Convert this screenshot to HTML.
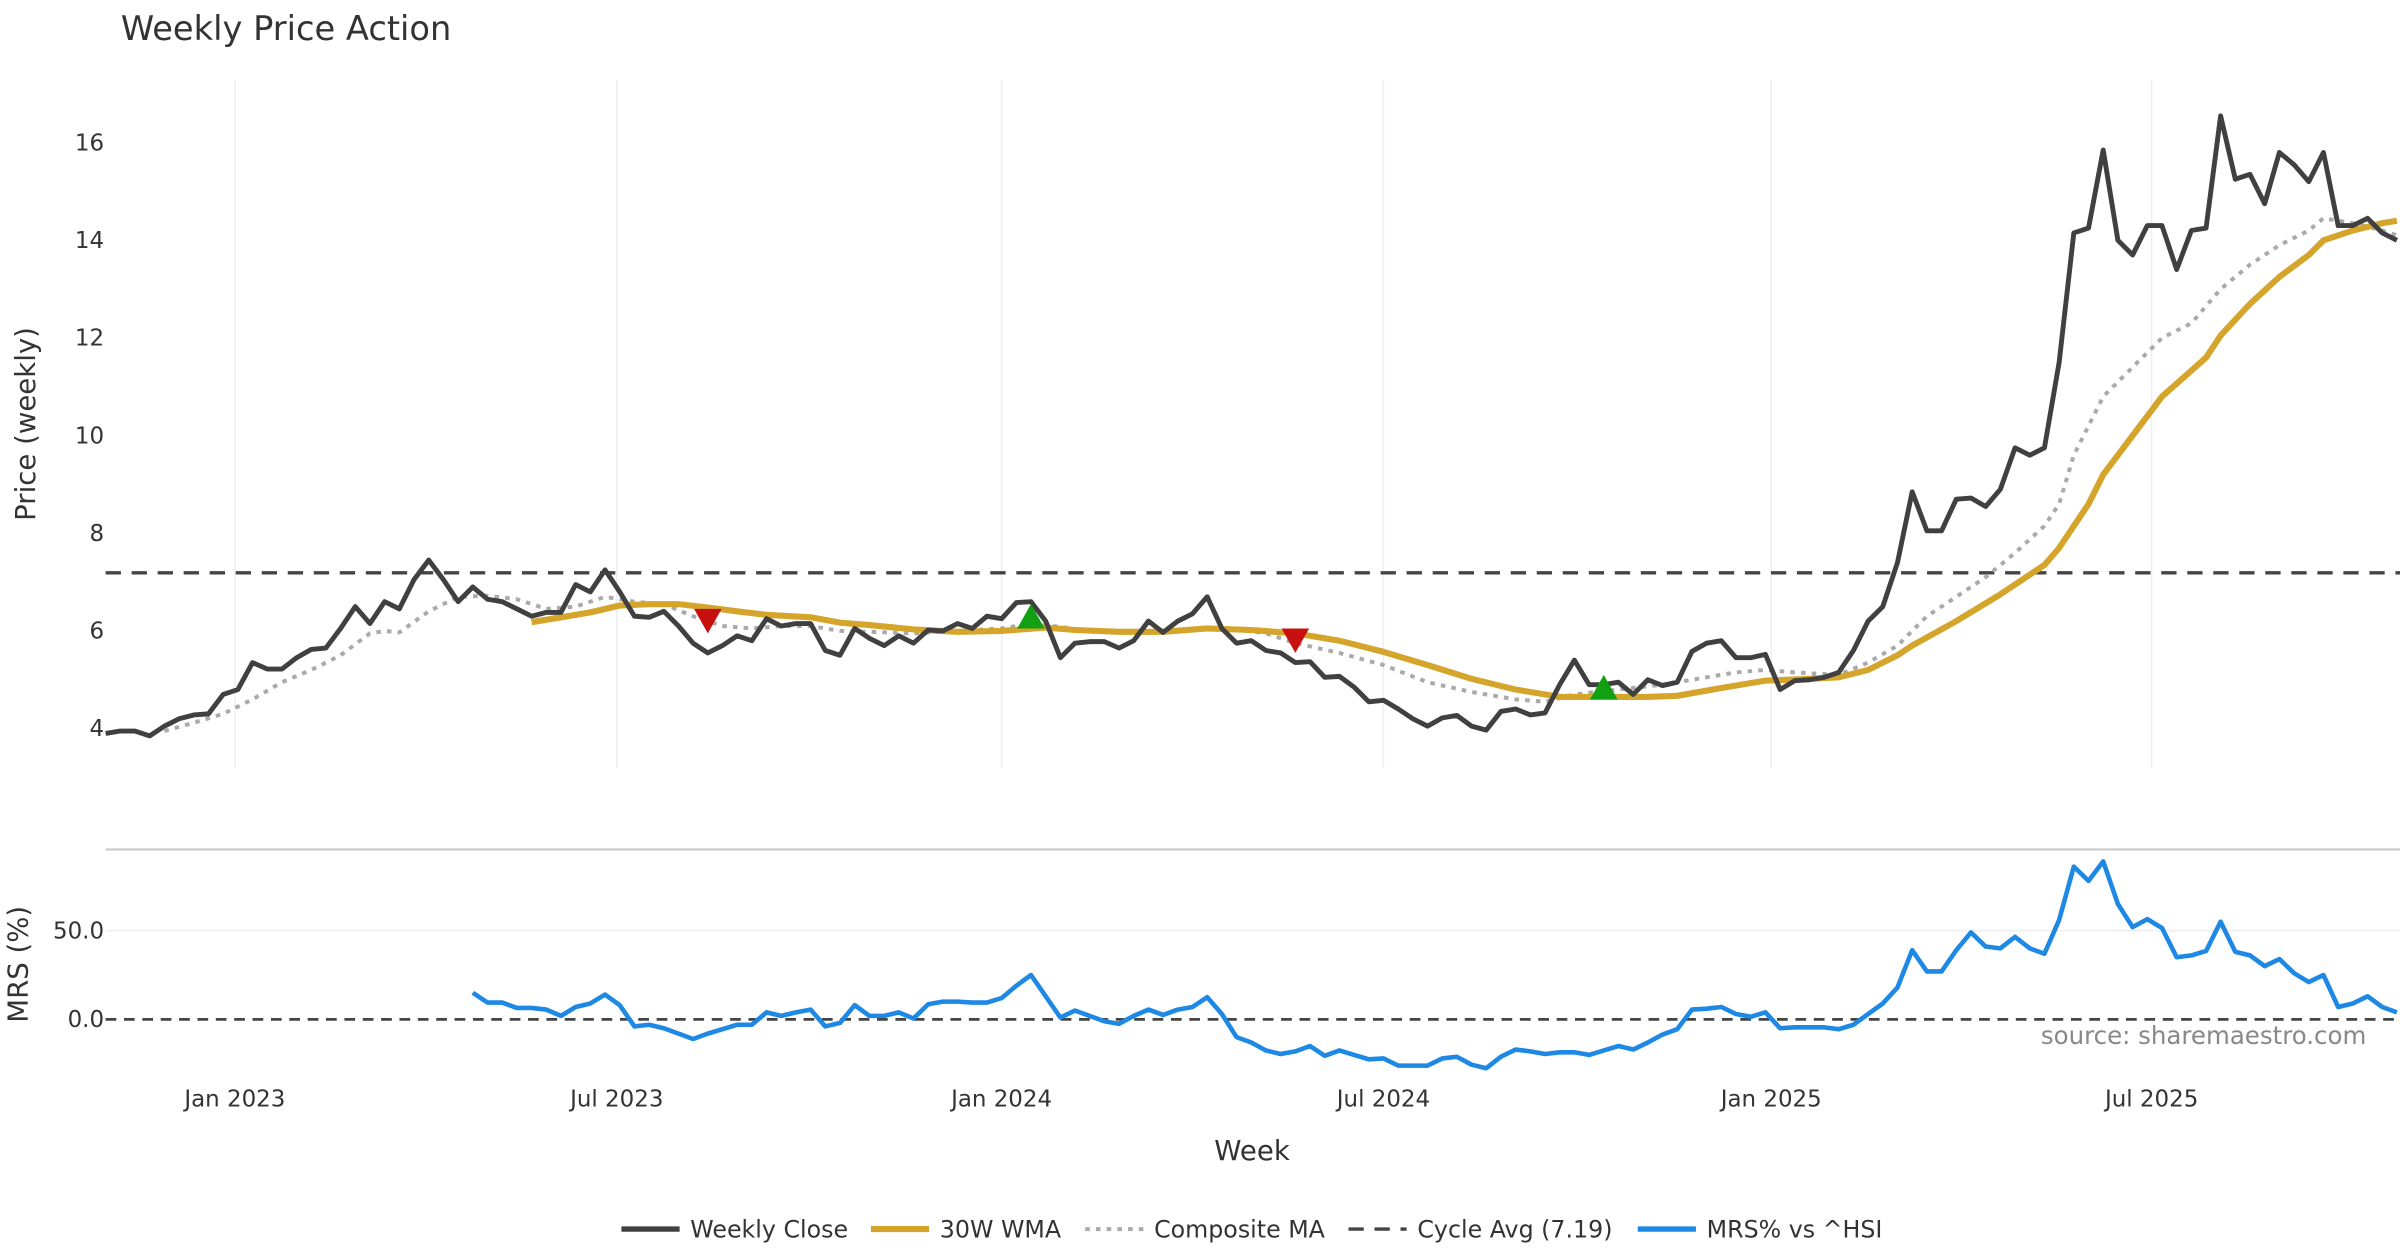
<!DOCTYPE html>
<html><head><meta charset="utf-8"><style>
html,body{margin:0;padding:0;background:#fff;}
svg{display:block;font-family:"DejaVu Sans","Liberation Sans",sans-serif;}
</style></head><body>
<svg id="chart" width="2400" height="1260" viewBox="0 0 1568 823.2" preserveAspectRatio="none" xmlns="http://www.w3.org/2000/svg">
<rect width="1568" height="823.2" fill="#fff"/>
<text x="79" y="26" font-size="22" fill="#333">Weekly Price Action</text>
<g id="grid"></g>
<g id="axes"></g>
<g id="series"></g>
<text transform="translate(23,277) rotate(-90)" text-anchor="middle" font-size="18" fill="#333">Price (weekly)</text>
<text transform="translate(18,630) rotate(-90)" text-anchor="middle" font-size="18" fill="#333">MRS (%)</text>
<text x="818" y="758" text-anchor="middle" font-size="18" fill="#333">Week</text>
<text x="1546" y="682" text-anchor="end" font-size="16" fill="#888">source: sharemaestro.com</text>
<g id="legend"></g>
</svg>
<script>
const closeVals=[3.9,3.95,3.95,3.85,4.05,4.2,4.28,4.3,4.7,4.8,5.35,5.22,5.22,5.45,5.62,5.65,6.05,6.5,6.15,6.6,6.45,7.05,7.45,7.05,6.6,6.9,6.65,6.6,6.45,6.3,6.38,6.38,6.95,6.8,7.25,6.8,6.3,6.28,6.4,6.1,5.75,5.55,5.7,5.9,5.8,6.25,6.1,6.15,6.15,5.6,5.5,6.05,5.85,5.7,5.9,5.75,6.02,6.0,6.15,6.05,6.3,6.25,6.58,6.6,6.2,5.45,5.75,5.78,5.78,5.65,5.8,6.2,5.97,6.2,6.35,6.7,6.05,5.75,5.8,5.6,5.55,5.35,5.37,5.05,5.07,4.85,4.55,4.58,4.4,4.2,4.05,4.22,4.27,4.05,3.97,4.35,4.4,4.28,4.32,4.9,5.4,4.9,4.9,4.95,4.7,5.0,4.88,4.95,5.58,5.75,5.8,5.45,5.45,5.52,4.8,4.98,5.0,5.05,5.15,5.6,6.2,6.5,7.4,8.85,8.05,8.05,8.7,8.72,8.55,8.9,9.75,9.6,9.75,11.5,14.15,14.25,15.85,14.0,13.7,14.3,14.3,13.4,14.2,14.25,16.55,15.25,15.35,14.75,15.8,15.55,15.2,15.8,14.3,14.3,14.45,14.15,14.0];
const wmaWeeks=[29,31,33,35,37,39,41,43,45,48,50,52,55,58,61,64,66,69,72,75,78,81,84,87,90,93,96,99,102,105,107,110,113,116,118,120,122,123,126,129,132,133,135,136,138,140,143,144,146,148,150,151,153,155,156];
const wmaVals=[6.18,6.28,6.38,6.52,6.55,6.55,6.48,6.4,6.33,6.28,6.17,6.12,6.03,5.98,6.0,6.07,6.02,5.98,5.98,6.05,6.02,5.95,5.8,5.57,5.3,5.02,4.8,4.65,4.65,4.65,4.67,4.83,4.98,5.02,5.05,5.2,5.5,5.7,6.2,6.75,7.35,7.7,8.6,9.2,10.0,10.8,11.6,12.05,12.7,13.25,13.7,14.0,14.2,14.35,14.4];
const compWeeks=[4,6,8,10,12,14,16,18,19,20,22,24,26,28,30,32,34,36,38,40,42,44,46,48,50,52,55,58,61,63,65,67,70,73,76,79,81,84,87,90,93,96,98,100,103,106,108,111,113,115,118,120,122,124,126,128,130,132,133,134,136,138,140,142,144,146,148,150,151,153,155,156];
const compVals=[3.95,4.12,4.3,4.6,4.95,5.2,5.5,5.95,6.0,5.97,6.4,6.7,6.72,6.65,6.45,6.5,6.7,6.6,6.55,6.3,6.1,6.05,6.1,6.1,6.0,5.98,5.95,6.0,6.05,6.15,6.08,6.0,5.98,6.0,6.07,5.95,5.75,5.55,5.3,4.95,4.75,4.6,4.55,4.7,4.8,4.9,5.0,5.15,5.2,5.15,5.1,5.35,5.7,6.3,6.7,7.1,7.6,8.15,8.6,9.6,10.8,11.4,12.0,12.3,13.0,13.5,13.9,14.2,14.45,14.35,14.2,14.1];
const mrsStart=25;
const mrsVals=[15,9.5,9.5,6.5,6.5,5.5,2,7,9,14,8,-4,-3,-5,-8,-11,-8,-5.5,-3,-3,4,2,4,5.5,-4,-2,8,2,2,4,0.5,8.5,10,10,9.5,9.5,12,19,25,13,1,5,2,-1,-2.5,2,5.5,2.5,5.5,7,12.5,3,-10,-13,-17.5,-19.5,-18,-15,-20.5,-17.5,-20,-22.5,-22,-26,-26,-26,-22,-21,-25.5,-27.5,-21,-17,-18,-19.5,-18.5,-18.5,-20,-17.5,-15,-17,-13,-8.5,-5.5,5.5,6,7,3,1.5,4,-5,-4.5,-4.5,-4.5,-5.5,-3,3,9,18,39,27,27,39,49,41,40,46.5,40,37,56,86,78,89,65,52,56.5,51.5,35,36,38.5,55,38,36,30,34,26,21,25,7,9,13,7,4];
const sellWeeks=[41,81];
const sellPrices=[6.2,5.8];
const buyWeeks=[63,102];
const buyPrices=[6.3,4.85];
const cycleAvg=7.19;
const priceTicks=[4,6,8,10,12,14,16];
const mrsTicks=[0,50];
const mrsTickLabels=["0.0","50.0"];
const dateTickWeeks=[8.8,34.8,61,87,113.4,139.3];
const dateTickLabels=["Jan 2023","Jul 2023","Jan 2024","Jul 2024","Jan 2025","Jul 2025"];

const NS="http://www.w3.org/2000/svg";
const X0=69, X1=1566, NW=157;
const xs=i=>X0+i*(X1-X0)/(NW-1);
const yp=v=>476-(v-4)*31.9;
const ym=v=>666-v*1.16;
function mk(tag,attrs,parent){const e=document.createElementNS(NS,tag);for(const k in attrs)e.setAttribute(k,attrs[k]);parent.appendChild(e);return e;}
const grid=document.getElementById('grid'),axes=document.getElementById('axes'),ser=document.getElementById('series'),leg=document.getElementById('legend');

dateTickWeeks.forEach((w,i)=>{
  const g=mk('line',{x1:xs(w),x2:xs(w),y1:52,y2:502,stroke:'#eceef2','stroke-width':1},grid);
  
  
  const t=mk('text',{x:xs(w),y:723,'text-anchor':'middle','font-size':15,fill:'#333'},axes);
  t.textContent=dateTickLabels[i];
  
  
});
priceTicks.forEach(v=>{
  const t=mk('text',{x:68,y:yp(v)+5,'text-anchor':'end','font-size':15,fill:'#333'},axes);
  t.textContent=String(v);
  
  
});
const sep=mk('line',{x1:69,x2:1568,y1:555,y2:555,stroke:'#ccc','stroke-width':1.5},grid);


mrsTicks.forEach((v,i)=>{
  if(v!==0){const g=mk('line',{x1:69,x2:1568,y1:ym(v),y2:ym(v),stroke:'#eee','stroke-width':1},grid);
  
  }
  const t=mk('text',{x:68,y:ym(v)+5,'text-anchor':'end','font-size':15,fill:'#333'},axes);
  t.textContent=mrsTickLabels[i];
  
  
});
const cyc=mk('line',{x1:69,x2:1568,y1:yp(cycleAvg),y2:yp(cycleAvg),stroke:'#444','stroke-width':2.2,'stroke-dasharray':'10,7'},ser);


const zl=mk('line',{x1:69,x2:1568,y1:ym(0),y2:ym(0),stroke:'#444','stroke-width':1.8,'stroke-dasharray':'7,5'},ser);



function poly(pts,attrs){const p=mk('polyline',Object.assign({points:pts.map(q=>q[0].toFixed(1)+','+q[1].toFixed(1)).join(' '),fill:'none','stroke-linejoin':'round'},attrs),ser);return p;}
const pc=poly(compWeeks.map((w,i)=>[xs(w),yp(compVals[i])]),{stroke:'#aaa','stroke-width':2.6,'stroke-dasharray':'3,4'});


const pw=poly(wmaWeeks.map((w,i)=>[xs(w),yp(wmaVals[i])]),{stroke:'#D4A52A','stroke-width':4});


const pcl=poly(closeVals.map((v,i)=>[xs(i),yp(v)]),{stroke:'#404040','stroke-width':3.2});


const pm=poly(mrsVals.map((v,i)=>[xs(mrsStart+i),ym(v)]),{stroke:'#1E88E5','stroke-width':3});



sellWeeks.forEach((w,i)=>{const x=xs(w),y=yp(sellPrices[i]);
  const t=mk('polygon',{points:`${x-9},${y-8} ${x+9},${y-8} ${x},${y+8}`,fill:'#C81010'},ser);
  
  });
buyWeeks.forEach((w,i)=>{const x=xs(w),y=yp(buyPrices[i]);
  const t=mk('polygon',{points:`${x-9},${y+8} ${x+9},${y+8} ${x},${y-8}`,fill:'#10A010'},ser);
  
  });

const legItems=[
 {x:406,label:'Weekly Close',stroke:'#404040',w:3.5,dash:''},
 {x:569,label:'30W WMA',stroke:'#D4A52A',w:4,dash:''},
 {x:709,label:'Composite MA',stroke:'#aaa',w:2.6,dash:'3,4'},
 {x:881,label:'Cycle Avg (7.19)',stroke:'#444',w:2.2,dash:'10,7'},
 {x:1070,label:'MRS% vs ^HSI',stroke:'#1E88E5',w:3.5,dash:''}];
legItems.forEach(it=>{
  const g=mk('g',{},leg);
  
  
  const a={x1:it.x,x2:it.x+38,y1:803,y2:803,stroke:it.stroke,'stroke-width':it.w};
  if(it.dash)a['stroke-dasharray']=it.dash;
  mk('line',a,g);
  const t=mk('text',{x:it.x+45,y:808.5,'font-size':15.5,fill:'#333'},g);
  t.textContent=it.label;
});
</script>
</body></html>
